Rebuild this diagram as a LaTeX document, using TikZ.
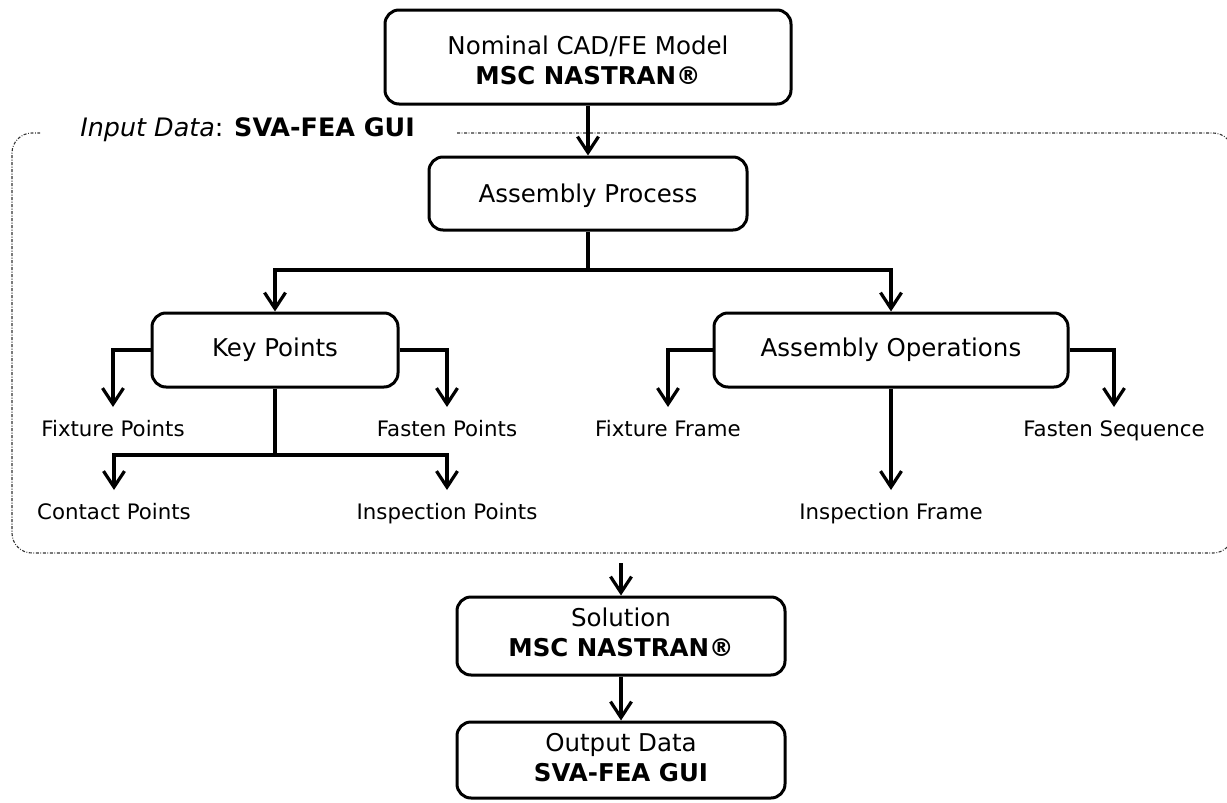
\documentclass[tikz,border=0pt]{standalone}
\usepackage{fontspec}
\setmainfont{DejaVu Sans}
\usetikzlibrary{arrows.meta}
\begin{document}
\begin{tikzpicture}[x=0.5pt,y=-0.5pt,
  box/.style={draw, line width=1.5pt, rounded corners=7pt, align=center, inner sep=0pt,
    font=\fontsize{12.25}{15}\selectfont},
  lbl/.style={font=\fontsize{10.65}{13}\selectfont, anchor=north, inner xsep=0pt,
    inner ysep=6.4pt, text height=8pt, text depth=2.5pt},
  conn/.style={line width=1.6pt},
  arr/.style={line width=1.6pt, -{Straight Barb[length=8pt,width=10.5pt]}},
  frame/.style={draw=black!80, line width=0.55pt,
    dash pattern=on 1.5pt off 0.8pt on 0.4pt off 0.8pt, rounded corners=10pt}]
\useasboundingbox (0,0) rectangle (1227,803);

% dotted frame
\draw[frame] (457,133) -- (1233,133) -- (1233,553) -- (12,553) -- (12,133) -- (40,133);
\node[anchor=base west, inner sep=0pt, font=\fontsize{12.7}{15}\selectfont] (inp) at (80,136)
  {\textit{Input Data}: \textbf{SVA-FEA GUI}};

% boxes
\node[box, minimum width=203pt, minimum height=47pt] (top) at (588,57)
  {\rule{0pt}{12.5pt}Nominal CAD/FE Model\\\textbf{MSC NASTRAN®}};
\node[box, minimum width=159pt, minimum height=36.5pt, text depth=0pt] (proc) at (588,193.5) {Assembly Process};
\node[box, minimum width=123pt, minimum height=37pt] (key) at (275,350) {Key Points};
\node[box, minimum width=177pt, minimum height=37pt] (ops) at (891,350) {Assembly Operations};
\node[box, minimum width=164pt, minimum height=39pt] (sol) at (621,636)
  {Solution\\\textbf{MSC NASTRAN®}\rule[-4pt]{0pt}{4pt}};
\node[box, minimum width=164pt, minimum height=38pt] (out) at (621,760)
  {Output Data\\\textbf{SVA-FEA GUI}\rule[-2.5pt]{0pt}{2.5pt}};

% labels
\node[lbl] (fixp) at (113,407) {Fixture Points};
\node[lbl] (fasp) at (447,407) {Fasten Points};
\node[lbl] (conp) at (114,490) {Contact Points};
\node[lbl] (insp) at (447,490) {Inspection Points};
\node[lbl] (fixf) at (668,407) {Fixture Frame};
\node[lbl] (fass) at (1114,407) {Fasten Sequence};
\node[lbl] (insf) at (891,490) {Inspection Frame};

% junctions
\coordinate (s1) at (588,270);
\coordinate (s2) at (275,455);
\coordinate (frs) at (621,563);

% connectors
\draw[arr] (top.south) -- (proc.north);
\draw[conn] (proc.south) -- (s1);
\draw[arr] (s1) -| (key.north);
\draw[arr] (s1) -| (ops.north);
\draw[arr] (key.west) -| (fixp.north);
\draw[arr] (key.east) -| (fasp.north);
\draw[conn] (key.south) -- (s2);
\draw[arr] (s2) -| (conp.north);
\draw[arr] (s2) -| (insp.north);
\draw[arr] (ops.west) -| (fixf.north);
\draw[arr] (ops.east) -| (fass.north);
\draw[arr] (ops.south) -- (insf.north);
\draw[arr] (frs) -- (sol.north);
\draw[arr] (sol.south) -- (out.north);
\end{tikzpicture}
\end{document}
